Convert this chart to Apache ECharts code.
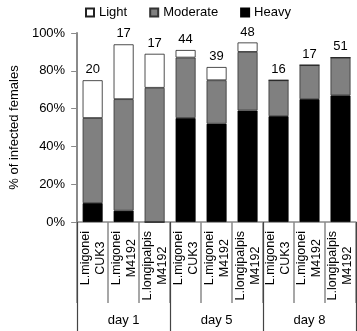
<!DOCTYPE html>
<html>
<head>
<meta charset="utf-8">
<script src="https://cdn.jsdelivr.net/npm/echarts@6/dist/echarts.min.js"></script>
<style>
  html, body { margin: 0; padding: 0; background: #fff; }
  #chart { width: 357px; height: 331px; }
</style>
</head>
<body>
<div id="chart"></div>
<script>
const categories = [
  'L.migonei\nCUK3', 'L.migonei\nM4192', 'L.longipalpis\nM4192',
  'L.migonei\nCUK3', 'L.migonei\nM4192', 'L.longipalpis\nM4192',
  'L.migonei\nCUK3', 'L.migonei\nM4192', 'L.longipalpis\nM4192'
]
const days = ['day 1', 'day 5', 'day 8']
const heavy = [10, 6, 0, 55, 52, 59, 56, 65, 67]
const moderate = [45, 59, 71, 32, 23, 31, 19, 18, 20]
const light = [20, 29, 18, 4, 7, 5, 0, 0, 0]
const counts = [20, 17, 17, 44, 39, 48, 16, 17, 51]

const font = 'Liberation Sans, Arial, sans-serif'
const axisGray = '#8a8a8a'

const chart = echarts.init(document.getElementById('chart'))
chart.setOption({
  animation: false,
  textStyle: { fontFamily: font, color: '#000' },
  legend: {
    left: 80,
    top: 1,
    icon: 'rect',
    itemWidth: 8,
    itemHeight: 8,
    itemGap: 22,
    textStyle: { fontSize: 13, color: '#000', fontFamily: font },
    data: ['Light', 'Moderate', 'Heavy']
  },
  grid: { left: 57, right: 1, top: 33, bottom: 109 },
  xAxis: [
    {
      type: 'category',
      data: categories,
      axisLine: { lineStyle: { color: axisGray, width: 1.5 } },
      axisTick: { show: true, interval: 0, length: 81, lineStyle: { color: axisGray, width: 1.5 } },
      axisLabel: {
        interval: 0,
        rotate: 90,
        margin: 9,
        formatter: v => v.split('\n').map(s => '{c|' + s + '}').join('\n'),
        rich: { c: { align: 'center', fontSize: 12.5, fontFamily: font, color: '#000', lineHeight: 15 } }
      }
    },
    {
      type: 'category',
      data: days,
      position: 'bottom',
      axisLine: { show: false },
      axisTick: { show: true, interval: 0, length: 110, lineStyle: { color: '#444', width: 1.2 } },
      axisLabel: { interval: 0, margin: 92, fontSize: 13, color: '#000', fontFamily: font }
    }
  ],
  yAxis: {
    type: 'value',
    min: 0,
    max: 100,
    interval: 20,
    name: '% of infected females',
    nameLocation: 'middle',
    nameGap: 46,
    nameTextStyle: { fontSize: 13, color: '#000', fontFamily: font },
    axisLine: { show: true, lineStyle: { color: axisGray, width: 2 } },
    axisTick: { show: true, length: 6, lineStyle: { color: axisGray } },
    axisLabel: { formatter: '{value}%', margin: 12, fontSize: 13, color: '#000', fontFamily: font },
    splitLine: { show: false }
  },
  series: [
    {
      name: 'Heavy',
      type: 'bar',
      stack: 'all',
      barWidth: 20,
      data: heavy,
      itemStyle: { color: '#000', borderColor: '#000', borderWidth: 0.8 }
    },
    {
      name: 'Moderate',
      type: 'bar',
      stack: 'all',
      data: moderate,
      itemStyle: { color: '#808080', borderColor: '#333', borderWidth: 0.8 }
    },
    {
      name: 'Light',
      type: 'bar',
      stack: 'all',
      data: light,
      itemStyle: { color: '#fff', borderColor: '#222', borderWidth: 0.8 },
      label: {
        show: true,
        position: 'top',
        distance: 4,
        fontSize: 13,
        color: '#000',
        fontFamily: font,
        formatter: p => counts[p.dataIndex]
      }
    }
  ]
})
</script>
</body>
</html>
